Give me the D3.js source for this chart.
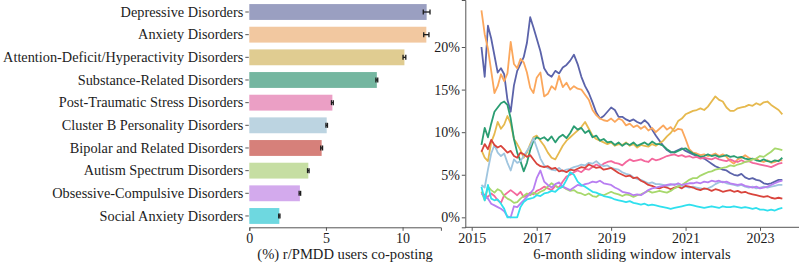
<!DOCTYPE html>
<html>
<head>
<meta charset="utf-8">
<script src="https://cdn.jsdelivr.net/npm/d3@7"></script>
<style>
  body { margin: 0; background: #fff; }
  svg { display: block; }
  text { font-family: "Liberation Serif", "Times New Roman", serif; fill: #1c1c1c; }
</style>
</head>
<body>
<svg id="chart" width="799" height="265"></svg>
<script>
const disorders = [
  "Depressive Disorders", "Anxiety Disorders", "Attention-Deficit/Hyperactivity Disorders",
  "Substance-Related Disorders", "Post-Traumatic Stress Disorders", "Cluster B Personality Disorders",
  "Bipolar and Related Disorders", "Autism Spectrum Disorders", "Obsessive-Compulsive Disorders",
  "Social Anxiety Disorders"
];
const coPosting = [11.57, 11.55, 10.12, 8.32, 5.42, 5.05, 4.72, 3.85, 3.3, 1.96];
const coPostingErr = [0.22, 0.17, 0.09, 0.06, 0.06, 0.05, 0.06, 0.05, 0.05, 0.04];
const barTicks = [0, 5, 10];

// one window every 0.1 year, 2015.3 .. 2023.6
const windowYears = d3.range(84).map(i => 2015.3 + i * 0.1);
const yearTicks = [2015, 2017, 2019, 2021, 2023];
const pctTicks = [0, 5, 10, 15, 20];

const depressive = [
  20.0, 16.5, 22.5, 21.0, 19.0, 17.0, 17.5, 16.8, 13.8, 12.4,
  15.5, 17.2, 18.0, 18.8, 20.5, 23.5, 22.3, 21.0, 19.5, 17.5,
  16.8, 16.5, 17.2, 16.9, 17.6, 17.9, 18.4, 19.1, 18.0, 16.5,
  15.4, 14.6, 13.5, 12.3, 11.6, 11.9, 12.4, 12.9, 12.6, 11.8,
  11.8, 11.5, 11.3, 11.5, 11.2, 11.0, 11.4, 11.0, 10.3, 9.6,
  9.0, 8.4, 7.9, 7.6, 7.7, 7.9, 8.1, 7.8, 7.6, 7.4,
  7.2, 7.0, 6.9, 6.6, 6.3, 6.0, 5.8, 5.6, 5.5, 5.2,
  5.0, 4.9, 5.1, 4.7, 4.5, 4.6, 4.4, 4.3, 4.0, 3.9,
  4.0, 4.2, 4.4, 4.4
];
const anxiety = [
  24.3, 21.5, 19.8, 17.2, 14.6, 15.4, 16.8, 16.0, 16.9, 20.6,
  18.0, 17.5, 18.6, 18.2, 17.0, 15.2, 14.6, 16.4, 17.0, 14.2,
  14.5, 15.4, 15.0, 16.6, 15.3, 15.8, 15.0, 15.4, 15.1, 15.0,
  14.4, 13.8, 12.6, 12.0, 11.6, 11.4, 11.3, 11.6, 11.2, 11.6,
  11.4, 10.8, 11.0, 10.6, 10.8, 10.4, 10.7, 10.2, 10.5, 10.0,
  10.4, 10.8, 10.3, 10.6, 10.1, 10.4, 10.3, 9.2, 8.0, 7.6,
  7.5, 7.3, 7.4, 7.2, 7.3, 7.5, 7.2, 7.4, 7.1, 6.6,
  6.3, 6.8, 7.0, 7.3, 7.0, 6.8, 6.9, 6.6, 6.5, 6.7,
  6.4, 6.5, 6.7, 6.7
];
const adhd = [
  7.9, 7.0, 6.6, 8.8, 9.8, 11.2, 10.4, 10.9, 11.9, 11.0,
  9.2, 8.6, 7.9, 7.0, 7.6, 8.6, 9.4, 9.6, 9.0, 8.4,
  7.6, 7.0, 6.8, 7.6, 8.4, 9.0, 9.4, 9.8, 10.2, 10.6,
  11.2, 10.4, 9.6, 9.2, 9.0, 8.8, 8.6, 8.8, 8.4, 8.6,
  8.5, 8.8, 8.4, 8.6, 8.2, 8.5, 8.4, 8.3, 8.6, 8.4,
  8.7, 9.0, 9.5, 9.9, 10.5, 11.3, 11.6, 12.1, 12.3, 12.5,
  12.6, 12.8, 12.6, 13.0, 13.6, 14.2, 13.8, 13.6, 12.9, 12.5,
  12.5, 12.8, 12.9, 13.0, 13.2, 13.1, 13.4, 13.2, 13.5, 13.6,
  13.2, 12.9, 12.6, 12.1
];
const substance = [
  8.5, 10.5, 9.4, 11.0, 12.4, 12.9, 13.4, 13.6, 13.2, 11.6,
  9.2, 7.6, 6.6, 5.4, 6.4, 7.9, 9.0, 9.4, 9.2, 9.4,
  9.0, 9.5, 8.8, 9.4, 9.7, 9.3, 9.9, 10.7, 10.3, 10.5,
  9.9, 10.2, 9.4, 9.6, 9.0, 9.2, 8.8, 8.9, 8.5, 8.8,
  8.4, 8.7, 8.5, 8.8, 8.4, 8.6, 8.8, 8.5, 8.9, 8.6,
  8.6, 8.4, 8.0, 7.7, 7.6, 7.8, 8.0, 8.1, 7.8, 7.5,
  7.3, 7.1, 7.2, 7.4, 7.2, 7.3, 7.1, 7.2, 7.3, 7.1,
  7.2, 7.0, 7.1, 6.9, 6.8, 6.9, 6.7, 6.6, 6.8, 6.6,
  6.5, 6.7, 6.6, 7.0
];
const ptsd = [
  3.0, 2.6, 2.4, 2.8, 2.5, 2.0, 1.7, 2.6, 2.9, 3.2,
  2.9, 2.6, 3.0, 2.4, 2.6, 2.9, 2.7, 3.1, 3.3, 3.6,
  3.4, 3.2, 3.7, 3.5, 4.2, 4.8, 5.0, 5.3, 5.5, 5.3,
  5.7, 5.6, 5.9, 6.2, 6.0, 6.3, 6.5, 6.6, 6.4, 6.3,
  6.1, 6.5, 6.8, 6.6, 6.7, 6.8, 6.6, 6.5, 6.9, 6.7,
  6.8, 7.0, 7.2, 7.3, 7.4, 7.2, 7.3, 7.1, 7.2, 7.0,
  7.1, 6.9, 7.0, 6.9, 6.8, 7.0, 6.8, 6.7, 6.6, 6.8,
  6.6, 6.5, 6.7, 6.5, 6.6, 6.4, 6.3, 6.2, 6.1, 6.0,
  5.9, 6.1, 6.3, 6.4
];
const clusterB = [
  3.8, 3.5, 5.6, 7.5, 8.5, 7.6, 7.2, 7.5, 6.4, 5.5,
  6.8, 6.4, 6.6, 7.2, 7.8, 8.4, 9.3, 8.2, 6.9, 6.1,
  5.8, 5.6, 5.5, 5.8, 5.4, 5.6, 5.7, 5.9, 6.0, 6.2,
  6.1, 6.4, 6.3, 6.6, 6.2, 6.0, 6.1, 5.8, 5.7, 5.6,
  5.3, 5.1, 5.0, 4.7, 4.5, 4.4, 4.2, 4.0, 4.1, 3.9,
  3.9, 3.8, 3.7, 3.8, 3.9, 3.8, 3.7, 3.6, 3.5, 3.6,
  3.5, 3.4, 3.3, 3.4, 3.6, 3.9, 4.1, 4.2, 4.0, 3.9,
  3.8, 3.7, 3.8, 3.6, 3.5, 3.6, 3.4, 3.5, 3.6, 3.5,
  3.6, 3.7, 3.8, 3.8
];
const bipolar = [
  7.7, 8.6, 8.0, 9.1, 8.5, 8.2, 8.4, 8.0, 7.6, 7.8,
  7.2, 7.0, 7.6, 7.4, 7.1, 7.3, 6.8, 6.3, 6.0, 5.9,
  6.0, 5.7, 5.8, 5.4, 5.5, 5.3, 5.6, 5.5, 5.7, 5.9,
  5.8, 6.2, 6.0, 5.8, 5.9, 5.6, 5.7, 5.8, 5.5, 5.2,
  5.0, 4.8, 4.9, 4.6, 4.7, 4.3, 4.1, 3.8, 3.7, 3.5,
  3.4, 3.6, 3.5, 3.3, 3.5, 3.6, 3.4, 3.7, 3.6, 3.5,
  3.3, 3.2, 3.4, 3.3, 3.1, 3.3, 3.2, 3.0, 3.1, 3.2,
  3.0, 3.1, 2.9, 3.0, 2.8, 2.7, 2.6, 2.5, 2.4, 2.5,
  2.3, 2.2, 2.3, 2.2
];
const autism = [
  3.0, 2.0, 3.6, 3.2, 2.9, 3.3, 3.1, 2.5, 2.2, 2.0,
  1.7, 1.8, 2.2, 2.5, 2.8, 2.6, 2.9, 2.7, 3.0, 3.2,
  3.6, 4.0, 3.7, 3.4, 3.6, 3.3, 3.1, 3.2, 2.9, 2.8,
  2.6, 2.8, 2.5, 2.4, 2.7, 2.6, 2.8, 3.0, 2.8, 2.7,
  2.5, 2.7, 2.6, 2.4, 2.6, 2.7, 2.9, 3.1, 2.9, 3.0,
  3.1, 3.0, 2.9, 3.1, 3.4, 3.6, 3.8, 4.1, 4.4, 4.6,
  4.6, 4.9, 5.1, 5.3, 5.4, 5.6, 5.7, 5.8, 5.9, 6.1,
  6.0, 6.2, 6.3, 6.5, 6.6, 6.8, 6.9, 7.2, 7.1, 7.4,
  7.7, 8.1, 8.0, 7.9
];
const ocd = [
  2.8, 2.4, 2.2, 1.6, 1.4, 1.2, 1.0, 0.7, 0.1, 0.0,
  1.3, 1.2, 1.6, 2.0, 2.4, 2.8, 3.3, 4.6, 5.5, 4.2,
  3.8, 3.5, 3.9, 4.1, 3.6, 3.4, 3.2, 3.5, 3.8, 3.7,
  3.9, 4.0, 4.2, 4.1, 4.3, 4.0, 3.9, 3.8, 3.5, 3.3,
  3.0, 2.9, 2.8, 2.6, 2.7, 2.6, 2.9, 3.2, 3.4, 3.5,
  3.6, 3.7, 3.8, 3.9, 3.8, 4.0, 3.8, 3.9, 4.0, 4.0,
  4.1, 4.0, 4.2, 4.1, 4.3, 4.2, 4.3, 4.1, 4.2, 4.0,
  3.9, 3.8, 3.9, 3.7, 3.6, 3.5, 3.6, 3.4, 3.5, 3.6,
  3.8, 4.0, 4.2, 4.3
];
const socialAnxiety = [
  3.6, 2.0, 3.8, 2.2, 2.0, 2.1, 1.6, 1.0, 0.0, 0.0,
  0.0, 0.0, 1.2, 1.8, 2.1, 2.2, 2.3, 2.6, 2.5, 2.8,
  2.9, 3.1, 3.0, 3.4, 3.6, 4.4, 5.3, 5.0, 4.2, 3.8,
  3.6, 3.3, 3.0, 2.9, 2.7, 2.5, 2.4, 2.3, 2.1, 2.0,
  1.9, 1.8, 1.9, 1.7, 1.6, 1.5, 1.6, 1.4, 1.5, 1.4,
  1.3, 1.2, 1.1, 1.0, 1.1, 1.2, 1.3, 1.4, 1.5, 1.4,
  1.3, 1.2, 1.1, 1.2, 1.3, 1.2, 1.1, 1.3, 1.2, 1.2,
  1.3, 1.2, 1.1, 1.2, 1.1, 1.0, 1.1, 0.9, 0.9, 0.8,
  0.9, 0.8, 1.0, 1.1
];
const trendSeries = [depressive, anxiety, adhd, substance, ptsd, clusterB, bipolar, autism, ocd, socialAnxiety];

const lineColors = ["#5b63aa", "#fba75c", "#e6b94e", "#2a9d72", "#f4689d", "#9fc5df", "#d9443c", "#a7d86c", "#b87ef1", "#2fe0ee"];
const barColors = ["#9a9fc1", "#f2c8a0", "#e0cc91", "#74b6a0", "#eb9fc5", "#bcd4e1", "#d6807a", "#c6dea3", "#d3aaed", "#6ed8e0"];

const fontFamily = '"Liberation Serif", "Times New Roman", serif';
const svg = d3.select("#chart");
const axisColor = "#555";

// ---- left: bar chart ----
const xBar = d3.scaleLinear().domain([0, 12.5]).range([249.3, 440.9]);
const yBar = d3.scaleBand().domain(disorders).range([0.67, 227.3]).paddingInner(0.3).paddingOuter(0.15);

const left = svg.append("g");

left.selectAll("rect.bar")
  .data(disorders)
  .enter()
  .append("rect")
  .attr("class", "bar")
  .attr("x", xBar(0))
  .attr("y", d => yBar(d))
  .attr("width", (d, i) => xBar(coPosting[i]) - xBar(0))
  .attr("height", yBar.bandwidth())
  .attr("fill", (d, i) => barColors[i]);

const err = left.selectAll("g.err")
  .data(disorders)
  .enter()
  .append("g")
  .attr("class", "err")
  .attr("stroke", "#1c1c1c")
  .attr("stroke-width", 1.3);

err.append("line")
  .attr("x1", (d, i) => xBar(coPosting[i] - coPostingErr[i]))
  .attr("x2", (d, i) => xBar(coPosting[i] + coPostingErr[i]))
  .attr("y1", d => yBar(d) + yBar.bandwidth() / 2)
  .attr("y2", d => yBar(d) + yBar.bandwidth() / 2);
[-1, 1].forEach(s => {
  err.append("line")
    .attr("x1", (d, i) => xBar(coPosting[i] + s * coPostingErr[i]))
    .attr("x2", (d, i) => xBar(coPosting[i] + s * coPostingErr[i]))
    .attr("y1", d => yBar(d) + yBar.bandwidth() / 2 - 2.5)
    .attr("y2", d => yBar(d) + yBar.bandwidth() / 2 + 2.5);
});

const xBarAxis = left.append("g")
  .attr("transform", "translate(0,227.3)")
  .call(d3.axisBottom(xBar).tickValues(barTicks).tickSizeOuter(0).tickSize(3.5).tickPadding(2));
const yBarAxis = left.append("g")
  .attr("transform", `translate(${xBar(0) - 0.5},0)`)
  .call(d3.axisLeft(yBar).tickSize(3.5).tickPadding(2));
yBarAxis.select(".domain").remove();

left.append("text")
  .attr("x", (xBar.range()[0] + xBar.range()[1]) / 2)
  .attr("y", 259)
  .attr("text-anchor", "middle")
  .style("font-size", "14.6px")
  .text("(%) r/PMDD users co-posting");

// ---- right: sliding window trends ----
const xTime = d3.scaleLinear().domain([2015, 2017, 2023]).range([471.7, 536.7, 760]);
const yPct = d3.scaleLinear().domain([-1.17, 25.52]).range([227.3, 0]);

const right = svg.append("g");

const line = d3.line()
  .x((d, i) => xTime(windowYears[i]))
  .y(d => yPct(d));

right.selectAll("path.trend")
  .data(trendSeries)
  .enter()
  .append("path")
  .attr("class", "trend")
  .attr("fill", "none")
  .attr("stroke", (d, i) => lineColors[i])
  .attr("stroke-width", 1.8)
  .attr("stroke-linejoin", "round")
  .attr("d", line);

const xTimeAxis = right.append("g")
  .attr("transform", "translate(0,227.3)")
  .call(d3.axisBottom(xTime).tickValues(yearTicks).tickFormat(d3.format("d")).tickSize(3.5).tickPadding(2));
xTimeAxis.select(".domain").remove();
right.append("line")
  .attr("x1", 465.3).attr("x2", 799)
  .attr("y1", 227.3).attr("y2", 227.3)
  .attr("stroke", axisColor);

const yPctAxis = right.append("g")
  .attr("transform", "translate(465.3,0)")
  .call(d3.axisLeft(yPct).tickValues(pctTicks).tickFormat(d => d + "%").tickSizeOuter(0).tickSize(3.5).tickPadding(2));

right.append("text")
  .attr("x", 632)
  .attr("y", 259)
  .attr("text-anchor", "middle")
  .style("font-size", "14.6px")
  .text("6-month sliding window intervals");

[xBarAxis, yBarAxis, xTimeAxis, yPctAxis].forEach(g => {
  g.attr("font-family", fontFamily).attr("font-size", 14);
  g.selectAll(".tick text").attr("fill", "#1c1c1c").style("font-family", fontFamily).style("font-size", "14px");
  g.selectAll(".tick line").attr("stroke", axisColor);
  g.selectAll(".domain").attr("stroke", axisColor);
});
yBarAxis.selectAll(".tick text").style("font-size", "14.3px");
</script>
</body>
</html>
